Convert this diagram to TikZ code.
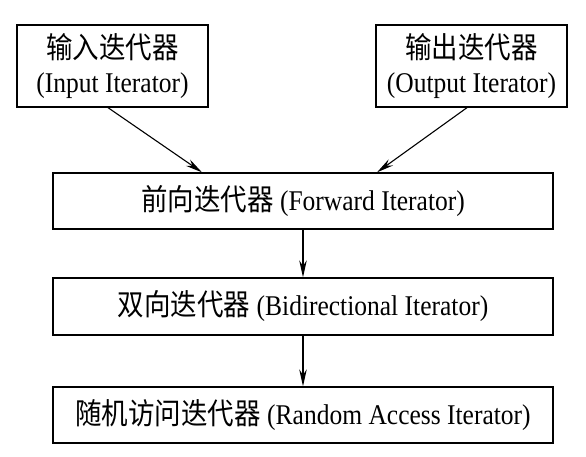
\documentclass[tikz,border=0pt]{standalone}
\usepackage{fontspec}
\usepackage{graphicx}
\setmainfont{Liberation Serif}
\newfontfamily\cjk{Noto Sans CJK SC}
\usetikzlibrary{arrows.meta}
\tikzset{
  box/.style={draw, line width=1.3pt, inner sep=0pt, font=\fontsize{25.5}{34}\selectfont, align=center},
  arr/.style={line width=1.1pt, -{Stealth[length=17pt,width=7.5pt]}},
}
\newcommand{\zh}[1]{{\cjk\fontsize{26.5}{34}\selectfont #1}}
\newcommand{\tall}[1]{\scalebox{1}[1.12]{#1}}
\begin{document}
\begin{tikzpicture}[x=1pt,y=-1pt]
\useasboundingbox (0,0) rectangle (586,456);
\fill[white] (0,0) rectangle (586,456);
\node[box, minimum width=191pt, minimum height=82pt] (tl) at (112.5,66) {\tall{\zh{输入迭代器}}\\\tall{(Input Iterator)}};
\node[box, minimum width=191pt, minimum height=82pt] (tr) at (471.5,66) {\tall{\zh{输出迭代器}}\\\tall{(Output Iterator)}};
\node[box, minimum width=500pt, minimum height=56pt] (fwd) at (303,201) {\tall{\zh{前向迭代器} (Forward Iterator)}};
\node[box, minimum width=500pt, minimum height=57pt] (bid) at (303,306.5) {\tall{\zh{双向迭代器} (Bidirectional Iterator)}};
\node[box, minimum width=500pt, minimum height=56pt] (rnd) at (303,415) {\tall{\zh{随机访问迭代器} (Random Access Iterator)}};
\draw[arr] ([xshift=-4.5pt]tl.south) -- ([xshift=-101pt]fwd.north);
\draw[arr] ([xshift=-4.5pt]tr.south) -- ([xshift=74pt]fwd.north);
\draw[arr] (fwd) -- (bid);
\draw[arr] (bid) -- (rnd);
\end{tikzpicture}
\end{document}
